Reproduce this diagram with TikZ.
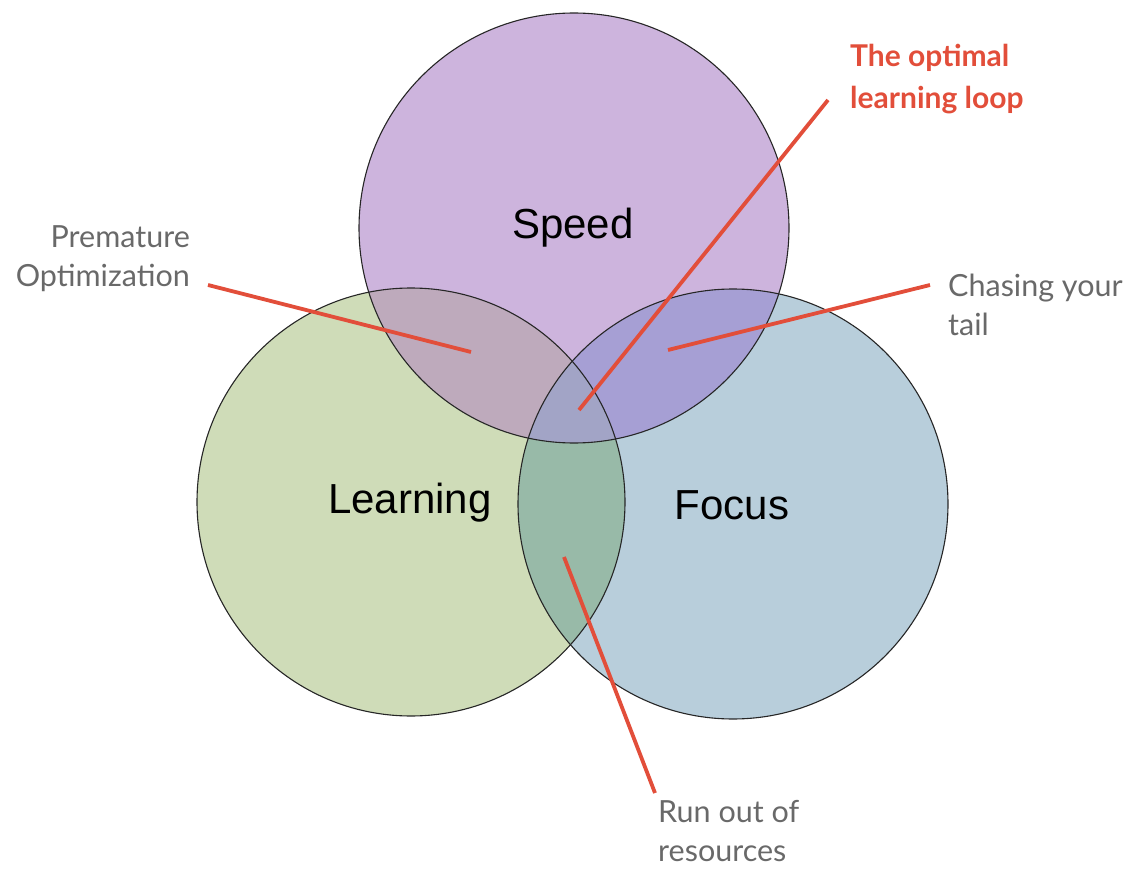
\documentclass[tikz,border=0pt]{standalone}
\usepackage{fontspec}
\setmainfont{Lato}
\newfontfamily\helv{Liberation Sans}
\definecolor{speedc}{RGB}{205,180,221}
\definecolor{learnc}{RGB}{207,220,184}
\definecolor{focusc}{RGB}{184,206,219}
\definecolor{slc}{RGB}{190,170,188}
\definecolor{sfc}{RGB}{166,159,212}
\definecolor{lfc}{RGB}{152,186,168}
\definecolor{slfc}{RGB}{162,164,198}
\definecolor{annred}{RGB}{226,78,58}
\definecolor{anngrey}{RGB}{105,105,105}
\tikzset{
  setc/.style={circle, minimum size=430pt, inner sep=0pt, outer sep=0pt},
  bigl/.style={font=\helv\fontsize{42}{46}\selectfont, text=black},
  ann/.style={font=\fontsize{30.5}{39}\selectfont, text=anngrey, inner sep=0pt},
  annr/.style={font=\bfseries\fontsize{30}{42}\selectfont, text=annred, inner sep=0pt},
  redline/.style={draw=annred, line width=3.8pt},
}
\begin{document}
\begin{tikzpicture}[x=1pt,y=-1pt]
\useasboundingbox (0,0) rectangle (1128,869);
% base fills
\fill[speedc] (574,228) circle (215);
\fill[learnc] (411,502) circle (214);
\fill[focusc] (733,504) circle (215);
% pairwise overlaps
\begin{scope}\clip (574,228) circle (215); \fill[slc] (411,502) circle (214);\end{scope}
\begin{scope}\clip (574,228) circle (215); \fill[sfc] (733,504) circle (215);\end{scope}
\begin{scope}\clip (411,502) circle (214); \fill[lfc] (733,504) circle (215);\end{scope}
\begin{scope}\clip (574,228) circle (215); \clip (411,502) circle (214); \fill[slfc] (733,504) circle (215);\end{scope}
% outlines as named nodes
\node[setc, draw=black!85, line width=1.1pt] (speed) at (574,228) {};
\node[setc, minimum size=428pt, draw=black!85, line width=1.1pt] (learning) at (411,502) {};
\node[setc, draw=black!85, line width=1.1pt] (focus) at (733,504) {};
% labels
\node[bigl] (speedl) at (573,228) {Speed};
\node[bigl] (learnl) at (410,503) {Learning};
\node[bigl] (focusl) at (732,505) {Focus};
% annotations
\node[ann, align=right, anchor=east] (prem) at (190,259) {Premature\\Optimization};
\node[annr, align=left, anchor=west] (opt) at (850,79) {The optimal\\learning loop};
\node[ann, align=left, anchor=west] (chase) at (948,305) {Chasing your\\tail};
\node[ann, align=left, anchor=west] (run) at (658,831) {Run out of\\resources};
% connector ends
\coordinate (premS) at (208,285);
\coordinate (premE) at (471,352);
\coordinate (optS) at (828,100);
\coordinate (optE) at (579,410);
\coordinate (chS) at (930,285);
\coordinate (chE) at (668,350);
\coordinate (runS) at (655,793);
\coordinate (runE) at (564,557);
\draw[redline] (premS) -- (premE);
\draw[redline] (optS) -- (optE);
\draw[redline] (chS) -- (chE);
\draw[redline] (runS) -- (runE);
\end{tikzpicture}
\end{document}
